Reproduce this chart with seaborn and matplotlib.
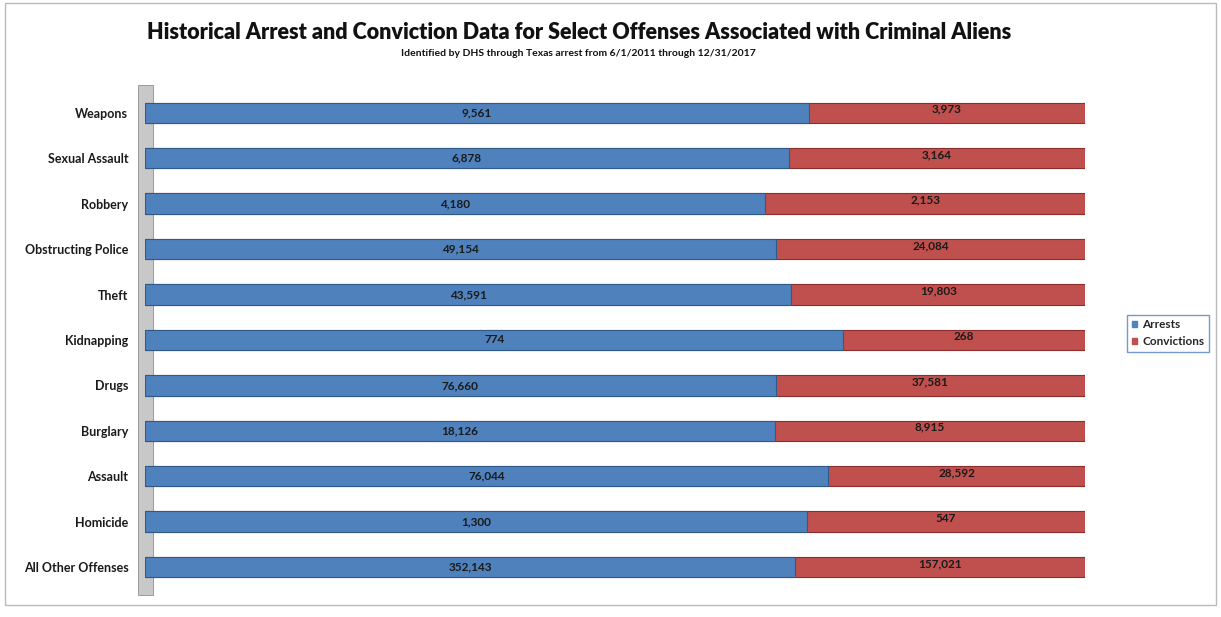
import matplotlib
matplotlib.use('Agg')
import matplotlib.pyplot as plt
import matplotlib.patches as mpatches
import seaborn as sns
import pandas as pd

sns.set_style('white')
plt.rcParams['font.family'] = ['Lato', 'DejaVu Sans']

# data
offenses = ['Weapons', 'Sexual Assault', 'Robbery', 'Obstructing Police', 'Theft',
            'Kidnapping', 'Drugs', 'Burglary', 'Assault', 'Homicide', 'All Other Offenses']
arrests = [9561, 6878, 4180, 49154, 43591, 774, 76660, 18126, 76044, 1300, 352143]
convictions = [3973, 3164, 2153, 24084, 19803, 268, 37581, 8915, 28592, 547, 157021]

blue = '#4F81BD'
red = '#C0504D'

df = pd.DataFrame({'offense': offenses, 'arrests': arrests, 'convictions': convictions})
df['total'] = df['arrests'] + df['convictions']
df['arr_share'] = df['arrests'] / df['total']
df['full'] = 1.0

fig = plt.figure(figsize=(12.21, 6.17), dpi=100)
ax = fig.add_axes([0.1188, 0.044, 0.7698, 0.81])

# grey back wall on the left
wall = mpatches.Rectangle((-0.008, -0.01), 0.016, 1.02, transform=ax.transAxes,
                          facecolor='#C8C8C8', edgecolor='#909090', linewidth=0.6,
                          clip_on=False, zorder=0)
ax.add_patch(wall)

# 100% stacked bars: full red bar underneath, blue share on top
sns.barplot(data=df, y='offense', x='full', color=red, width=0.45, orient='h',
            saturation=1, edgecolor='#8B2E2B', linewidth=0.8, ax=ax)
sns.barplot(data=df, y='offense', x='arr_share', color=blue, width=0.45, orient='h',
            saturation=1, edgecolor='#2F5A8A', linewidth=0.8, ax=ax)

# value labels
for i, row in df.iterrows():
    ax.text(row['arr_share'] / 2, i, f"{row['arrests']:,}", ha='center', va='center',
            fontsize=8.5, fontweight='bold', color='#1a1a1a')
    ax.text(row['arr_share'] + (1 - row['arr_share']) / 2, i - 0.08, f"{row['convictions']:,}",
            ha='center', va='center', fontsize=8.5, fontweight='bold', color='#1a1a1a')

ax.set_xlim(0, 1)
ax.set_ylim(len(offenses) - 0.5, -0.5)
ax.set_xlabel('')
ax.set_ylabel('')
ax.set_xticks([])
ax.tick_params(axis='y', length=0, pad=12)
for lbl in ax.get_yticklabels():
    lbl.set_fontweight('bold')
    lbl.set_fontsize(9)
    lbl.set_color('#1a1a1a')
for s in ax.spines.values():
    s.set_visible(False)

# legend
handles = [mpatches.Patch(color=blue, label='Arrests'),
           mpatches.Patch(color=red, label='Convictions')]
fig.legend(handles=handles, loc='center left', bbox_to_anchor=(0.918, 0.46),
           frameon=True, handlelength=0.5, handleheight=0.5,
           handletextpad=0.4, edgecolor='#4F81BD', fancybox=False,
           prop={'weight': 'bold', 'size': 8.5})

fig.text(0.474, 0.948, 'Historical Arrest and Conviction Data for Select Offenses Associated with Criminal Aliens',
         ha='center', va='center', fontsize=15.5, fontweight='heavy', color='#111111')
fig.text(0.474, 0.914, 'Identified by DHS through Texas arrest from 6/1/2011 through 12/31/2017',
         ha='center', va='center', fontsize=7.5, fontweight='bold', color='#111111')

# outer chart border
fig.patches.append(mpatches.Rectangle((0.004, 0.02), 0.992, 0.975, transform=fig.transFigure,
                                      fill=False, edgecolor='#BBBBBB', linewidth=1))

fig.savefig('out.png', dpi=100)
